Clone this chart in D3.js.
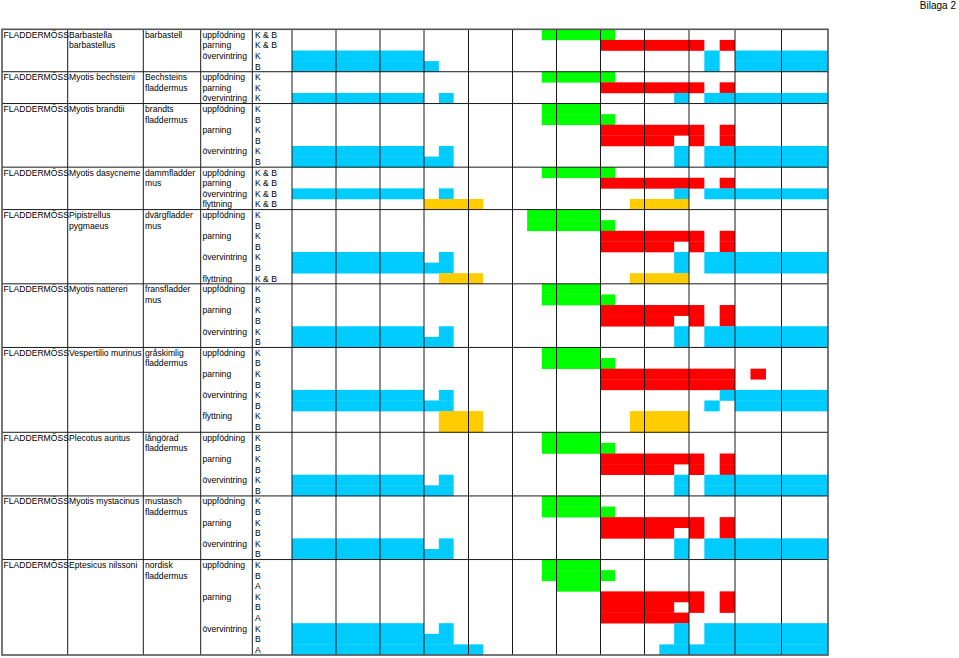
<!DOCTYPE html>
<html>
<head>
<meta charset="utf-8">
<script src="https://cdn.jsdelivr.net/npm/d3@7/dist/d3.min.js"></script>
<style>
  html, body { margin: 0; padding: 0; background: #fff; }
  svg { display: block; }
  text { font-family: "Liberation Sans", Arial, sans-serif; font-size: 8.6px; fill: #000; }
</style>
</head>
<body>
<svg id="chart" width="959" height="658"></svg>
<script>
// ---------------- DATA ----------------
const months = ["jan","feb","mar","apr","maj","jun","jul","aug","sep","okt","nov","dec"]; // each split in 3 periods (0..35)
const groupName = "FLADDERMÖSS";
const latinNames = [
  ["Barbastella","barbastellus"], ["Myotis bechsteini"], ["Myotis brandtii"], ["Myotis dasycneme"],
  ["Pipistrellus","pygmaeus"], ["Myotis nattereri"], ["Vespertilio murinus"], ["Plecotus auritus"],
  ["Myotis mystacinus"], ["Eptesicus nilssoni"]
];
const swedishNames = [
  ["barbastell"], ["Bechsteins","fladdermus"], ["brandts","fladdermus"], ["dammfladder","mus"],
  ["dvärgfladder","mus"], ["fransfladder","mus"], ["gråskimlig","fladdermus"], ["långörad","fladdermus"],
  ["mustasch","fladdermus"], ["nordisk","fladdermus"]
];
const activities = ["uppfödning","parning","övervintring","flyttning"];
const activityColors = ["#00ff00","#ff0000","#00ccff","#ffcc00"];
// rows: [species index, activity index, who, periods [first, last] (inclusive, 0..35)]
const rows = [
  [0,0,"K & B",[[17,21]]],
  [0,1,"K & B",[[21,27],[29,29]]],
  [0,2,"K",[[0,8],[28,28],[30,35]]],
  [0,2,"B",[[0,9],[28,28],[30,35]]],

  [1,0,"K",[[17,21]]],
  [1,1,"K",[[21,27],[29,29]]],
  [1,2,"K",[[0,8],[10,10],[26,26],[28,35]]],

  [2,0,"K",[[17,20]]],
  [2,0,"B",[[17,21]]],
  [2,1,"K",[[21,27],[29,29]]],
  [2,1,"B",[[21,25],[27,27],[29,29]]],
  [2,2,"K",[[0,8],[10,10],[26,26],[28,35]]],
  [2,2,"B",[[0,10],[26,26],[28,35]]],

  [3,0,"K & B",[[17,21]]],
  [3,1,"K & B",[[21,27],[29,29]]],
  [3,2,"K & B",[[0,8],[10,10],[26,26],[28,35]]],
  [3,3,"K & B",[[9,12],[23,26]]],

  [4,0,"K",[[16,20]]],
  [4,0,"B",[[16,21]]],
  [4,1,"K",[[21,27],[29,29]]],
  [4,1,"B",[[21,25],[27,27],[29,29]]],
  [4,2,"K",[[0,8],[10,10],[26,26],[28,35]]],
  [4,2,"B",[[0,10],[26,26],[28,35]]],
  [4,3,"K & B",[[10,12],[23,26]]],

  [5,0,"K",[[17,20]]],
  [5,0,"B",[[17,21]]],
  [5,1,"K",[[21,27],[29,29]]],
  [5,1,"B",[[21,25],[27,27],[29,29]]],
  [5,2,"K",[[0,8],[10,10],[26,26],[28,35]]],
  [5,2,"B",[[0,10],[26,26],[28,35]]],

  [6,0,"K",[[17,20]]],
  [6,0,"B",[[17,21]]],
  [6,1,"K",[[21,29],[31,31]]],
  [6,1,"B",[[21,29]]],
  [6,2,"K",[[0,8],[10,10],[29,35]]],
  [6,2,"B",[[0,10],[28,28],[30,35]]],
  [6,3,"K",[[10,12],[23,26]]],
  [6,3,"B",[[10,12],[23,26]]],

  [7,0,"K",[[17,20]]],
  [7,0,"B",[[17,21]]],
  [7,1,"K",[[21,27],[29,29]]],
  [7,1,"B",[[21,25],[27,27],[29,29]]],
  [7,2,"K",[[0,8],[10,10],[26,26],[28,35]]],
  [7,2,"B",[[0,10],[26,26],[28,35]]],

  [8,0,"K",[[17,20]]],
  [8,0,"B",[[17,21]]],
  [8,1,"K",[[21,27],[29,29]]],
  [8,1,"B",[[21,25],[27,27],[29,29]]],
  [8,2,"K",[[0,8],[10,10],[26,26],[28,35]]],
  [8,2,"B",[[0,10],[26,26],[28,35]]],

  [9,0,"K",[[17,20]]],
  [9,0,"B",[[17,21]]],
  [9,0,"A",[[18,20]]],
  [9,1,"K",[[21,27],[29,29]]],
  [9,1,"B",[[21,25],[27,27],[29,29]]],
  [9,1,"A",[[21,26]]],
  [9,2,"K",[[0,8],[10,10],[26,26],[28,35]]],
  [9,2,"B",[[0,10],[26,26],[28,35]]],
  [9,2,"A",[[0,12],[25,35]]]
];
const headerText = "Bilaga 2";

// ---------------- LAYOUT ----------------
const svg = d3.select("#chart");
const tableTop = 29.3, tableBottom = 655;
const colEdges = [2, 67.7, 143.3, 200.7, 252.3];
const monthEdges = [292, 336, 380, 424, 468.5, 512.5, 556.5, 600.5, 644.5, 689, 735, 781.5, 828];

const x = d3.scaleLinear().domain(d3.range(months.length + 1).map(i => i * 3)).range(monthEdges);
const y = d3.scaleLinear().domain([0, rows.length]).range([tableTop, tableBottom]);
const rowH = y(1) - y(0);

// bars
const bars = svg.append("g");
rows.forEach((r, i) => {
  r[3].forEach(p => {
    bars.append("rect")
      .attr("x", x(p[0]))
      .attr("y", y(i))
      .attr("width", x(p[1] + 1) - x(p[0]))
      .attr("height", rowH + 0.3)
      .attr("fill", activityColors[r[1]]);
  });
});

// species start rows
const speciesStart = [];
rows.forEach((r, i) => { if (i === 0 || rows[i-1][0] !== r[0]) speciesStart.push(i); });

// texts
const tg = svg.append("g");
const base = i => y(i) + rowH / 2 + 3.1;
speciesStart.forEach((s, k) => {
  tg.append("text").attr("x", 3.5).attr("y", base(s)).text(groupName);
  latinNames[k].forEach((t, j) => tg.append("text").attr("x", 69).attr("y", base(s + j)).text(t));
  swedishNames[k].forEach((t, j) => tg.append("text").attr("x", 145).attr("y", base(s + j)).text(t));
});
rows.forEach((r, i) => {
  if (i === 0 || rows[i-1][0] !== r[0] || rows[i-1][1] !== r[1]) {
    tg.append("text").attr("x", 202.5).attr("y", base(i)).text(activities[r[1]]);
  }
  tg.append("text").attr("x", 255).attr("y", base(i)).text(r[2]);
});

// grid
const grid = svg.append("g").attr("stroke", "#1a1a1a").attr("stroke-width", 1).attr("fill", "none");
colEdges.slice(1).concat(monthEdges.slice(0, -1)).forEach(v => {
  grid.append("line").attr("x1", v).attr("x2", v).attr("y1", tableTop).attr("y2", tableBottom);
});
speciesStart.slice(1).forEach(s => {
  grid.append("line").attr("x1", colEdges[0]).attr("x2", monthEdges[12]).attr("y1", y(s)).attr("y2", y(s));
});
svg.append("rect").attr("x", colEdges[0]).attr("y", tableTop)
  .attr("width", monthEdges[12] - colEdges[0]).attr("height", tableBottom - tableTop)
  .attr("fill", "none").attr("stroke", "#555").attr("stroke-width", 1.6);

// header
svg.append("text").attr("x", 956).attr("y", 8.5).attr("text-anchor", "end")
  .style("font-size", "10px").text(headerText);
</script>
</body>
</html>
